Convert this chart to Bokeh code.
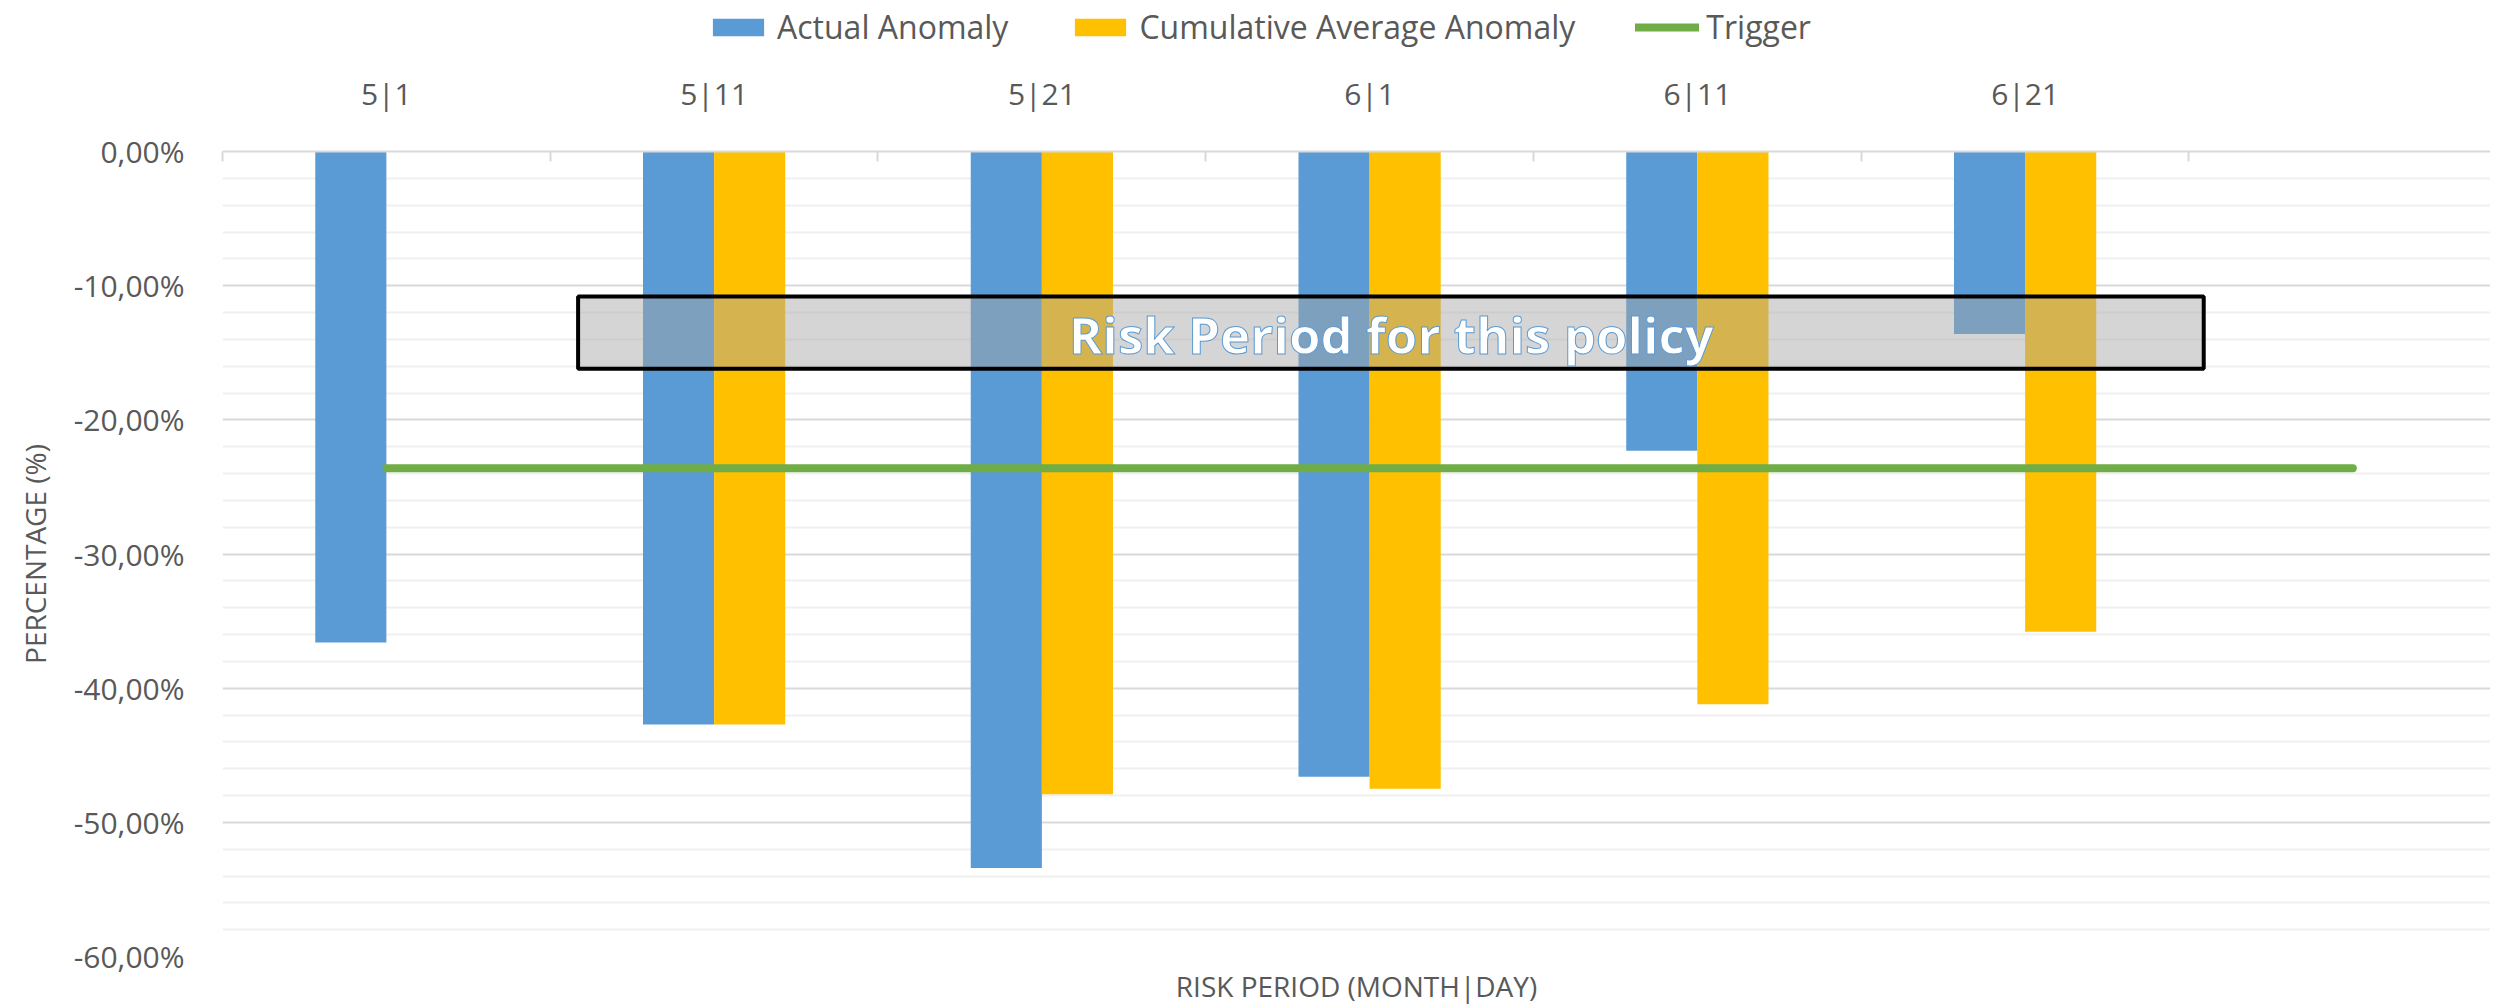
from bokeh.plotting import figure
from bokeh.layouts import column
from bokeh.models import (Range1d, FixedTicker, BoxAnnotation, Legend, LegendItem, LinearAxis)
from bokeh.core.properties import value
from bokeh.embed import file_html
from bokeh.resources import INLINE

# ---------------- data ----------------
categories = ["5|1", "5|11", "5|21", "6|1", "6|11", "6|21", ""]
actual_anomaly = [-36.6, -42.7, -53.4, -46.6, -22.3, -13.6, None]
cumulative_avg_anomaly = [None, -42.7, -47.9, -47.5, -41.2, -35.8, None]
trigger = [-23.6, -23.6, -23.6, -23.6, -23.6, -23.6, -23.6]
y_ticks = [0, -10, -20, -30, -40, -50, -60]
y_tick_labels = ["0,00%", "-10,00%", "-20,00%", "-30,00%", "-40,00%", "-50,00%", "-60,00%"]
y_minor_ticks = [-2, -4, -6, -8, -12, -14, -16, -18, -22, -24, -26, -28, -32, -34, -36, -38,
                 -42, -44, -46, -48, -52, -54, -56, -58]

FONT = "Open Sans"
TXT = "#595959"
BLUE = "#5B9BD5"
YELLOW = "#FFC000"
GREEN = "#70AD47"
W = 2490

# ---------------- legend strip ----------------
lp = figure(width=W, height=50, output_backend="svg", toolbar_location=None,
            x_axis_location=None, y_axis_location=None,
            x_range=Range1d(0, 1), y_range=Range1d(0, 1), min_border=0)
lp.outline_line_color = None
lp.grid.visible = False
# legend swatches only: drawn outside the visible range
l_blue = lp.vbar(x=[5], top=[5], bottom=[4], width=0.1, fill_color=BLUE, line_color=None)
l_yel = lp.vbar(x=[5], top=[5], bottom=[4], width=0.1, fill_color=YELLOW, line_color=None)
l_trig = lp.line(x=[5, 6], y=[5, 5], line_width=8, line_color=GREEN, line_cap="round")
legend = Legend(items=[LegendItem(label="Actual Anomaly", renderers=[l_blue]),
                       LegendItem(label="Cumulative Average Anomaly", renderers=[l_yel]),
                       LegendItem(label="Trigger", renderers=[l_trig])],
                location=(484, 2), orientation="horizontal",
                glyph_width=64, glyph_height=22, label_standoff=7, spacing=60,
                padding=0, margin=0, border_line_color=None, background_fill_alpha=0,
                label_text_font=FONT, label_text_font_size="32px", label_text_color=TXT)
lp.add_layout(legend)

# ---------------- main chart ----------------
p = figure(width=W, height=957, output_backend="svg", toolbar_location=None,
           x_range=Range1d(0, 6.92), y_range=Range1d(-60, 0),
           x_axis_location="above",
           min_border_left=222, min_border_top=101, min_border_bottom=50, min_border_right=0)
p.outline_line_color = None
p.background_fill_color = "white"
p.border_fill_color = "white"

centers = [i + 0.5 for i in range(len(categories))]
bw = 0.217

bx = [c - bw / 2 for c, v in zip(centers, actual_anomaly) if v is not None]
bt = [v for v in actual_anomaly if v is not None]
yx = [c + bw / 2 for c, v in zip(centers, cumulative_avg_anomaly) if v is not None]
yt = [v for v in cumulative_avg_anomaly if v is not None]

p.vbar(x=bx, top=bt, bottom=0, width=bw, fill_color=BLUE, line_color=None)
p.vbar(x=yx, top=yt, bottom=0, width=bw, fill_color=YELLOW, line_color=None)
p.line(x=centers, y=trigger, line_width=8, line_color=GREEN, line_cap="round")

# risk period box
box = BoxAnnotation(left=1.085, right=6.045, top=-10.8, bottom=-16.2,
                    fill_color="#A7A7A7", fill_alpha=0.475,
                    line_color="black", line_alpha=1.0, line_width=4)
p.add_layout(box)

r_txt = p.text(x=[3.566], y=[-13.6], text=["Risk Period for this policy"],
               text_font=value(FONT), text_font_style="bold", text_font_size="51px",
               text_color="white", text_outline_color=BLUE,
               text_align="center", text_baseline="middle")
r_txt.level = "overlay"

# axes
xa = p.xaxis[0]
xa.ticker = FixedTicker(ticks=centers, minor_ticks=list(range(0, 8)))
xa.major_label_overrides = {c: lab for c, lab in zip(centers, categories)}
xa.major_tick_line_color = None
xa.minor_tick_in = 10
xa.minor_tick_out = 0
xa.minor_tick_line_color = "#D9D9D9"
xa.minor_tick_line_width = 2
xa.axis_line_color = "#D9D9D9"
xa.axis_line_width = 2
xa.major_label_standoff = 32
xa.major_label_text_font = FONT
xa.major_label_text_font_size = "30px"
xa.major_label_text_color = TXT

ya = p.yaxis[0]
ya.ticker = FixedTicker(ticks=y_ticks, minor_ticks=y_minor_ticks)
ya.major_label_overrides = {t: lab for t, lab in zip(y_ticks, y_tick_labels)}
ya.axis_line_color = None
ya.major_tick_line_color = None
ya.minor_tick_line_color = None
ya.major_label_standoff = 32
ya.major_label_text_font = FONT
ya.major_label_text_font_size = "30px"
ya.major_label_text_color = TXT
ya.axis_label = "PERCENTAGE (%)"
ya.axis_label_text_font = FONT
ya.axis_label_text_font_style = "normal"
ya.axis_label_text_font_size = "28px"
ya.axis_label_text_color = TXT
ya.axis_label_standoff = 17

p.xgrid.grid_line_color = None
p.ygrid.grid_line_color = "#D9D9D9"
p.ygrid.grid_line_width = 2
p.ygrid.minor_grid_line_color = "#F0F0F0"
p.ygrid.minor_grid_line_width = 2

# bottom axis title only
xb = LinearAxis(axis_label="RISK PERIOD (MONTH|DAY)", ticker=FixedTicker(ticks=[]),
                axis_line_color=None, major_tick_line_color=None, minor_tick_line_color=None,
                major_tick_in=0, major_tick_out=0, minor_tick_in=0, minor_tick_out=0,
                major_label_standoff=0,
                major_label_text_font_size="0px", axis_label_standoff=10,
                axis_label_text_font=FONT, axis_label_text_font_style="normal",
                axis_label_text_font_size="28px", axis_label_text_color=TXT)
p.add_layout(xb, "below")

open("out.html", "w").write(file_html(column(lp, p, spacing=0), INLINE))
